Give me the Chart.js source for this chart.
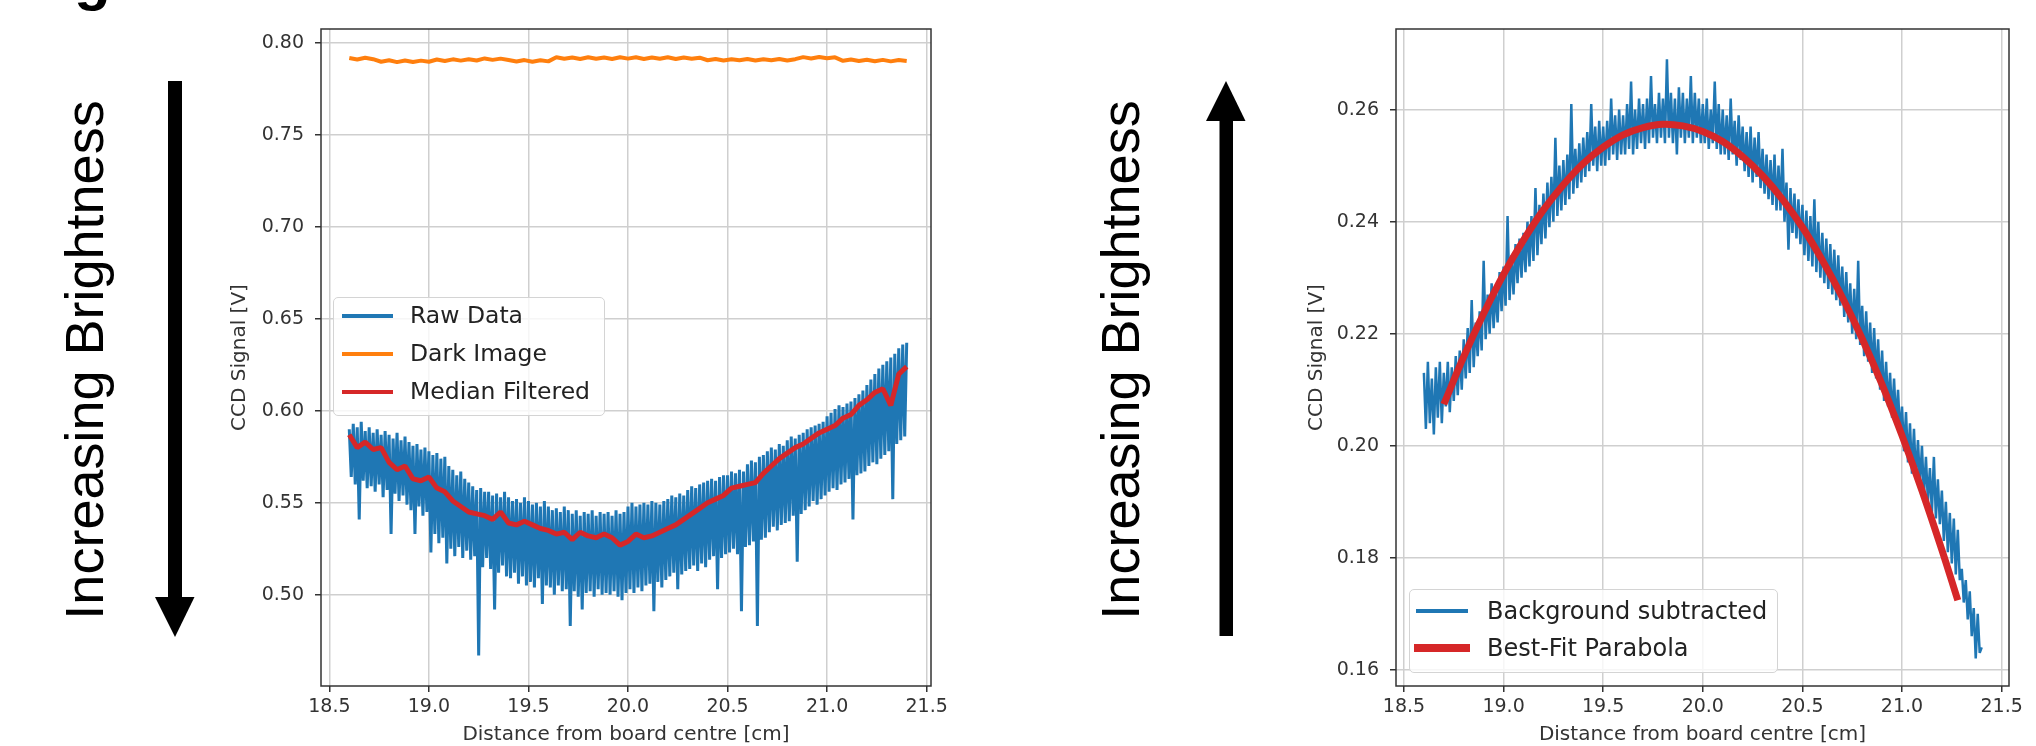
<!DOCTYPE html>
<html>
<head>
<meta charset="utf-8">
<script src="https://cdn.jsdelivr.net/npm/chart.js@4.4.1/dist/chart.umd.min.js"></script>
<style>
  html, body { margin: 0; padding: 0; background: #fff; }
  #page { position: relative; width: 2036px; height: 746px; overflow: hidden; background: #fff; }
  canvas { position: absolute; top: 0; }
  .vtext { position: absolute; font-family: "Liberation Sans", Arial, sans-serif; font-size: 54px; line-height: 54px;
           white-space: nowrap; color: #000; transform: translate(-50%, -50%) rotate(-90deg); }
  .mark { position: absolute; font-family: "Liberation Sans", Arial, sans-serif; font-weight: bold; font-size: 60px; line-height: 60px; color: #000; }
  .legend { position: absolute; box-sizing: border-box; background: rgba(255,255,255,0.8); border: 1px solid #d4d4d4; border-radius: 5px; }
  .legend .swatch { position: absolute; }
  .legend .label { position: absolute; font-family: "DejaVu Sans", sans-serif; color: #222; white-space: nowrap; }
  #arrows { position: absolute; left: 0; top: 0; }
</style>
</head>
<body>
<div id="page">
  <div class="mark" style="left:74px; top:-51px;">g</div>
  <div class="vtext" style="left:84px; top:360px;">Increasing Brightness</div>
  <div class="vtext" style="left:1120px; top:360px;">Increasing Brightness</div>
  <svg id="arrows" width="2036" height="746">
    <rect x="168" y="81" width="14" height="517" fill="#000"/>
    <polygon points="155,597 194.5,597 175,637" fill="#000"/>
    <rect x="1219.5" y="120" width="13.5" height="516" fill="#000"/>
    <polygon points="1206,121 1245.5,121 1226,81" fill="#000"/>
  </svg>
  <canvas id="leftChart" width="760" height="746" style="left:200px;"></canvas>
  <canvas id="rightChart" width="756" height="746" style="left:1280px;"></canvas>
  <div class="legend" id="legLeft" style="left:333px; top:297px; width:272px; height:119px;"></div>
  <div class="legend" id="legRight" style="left:1409px; top:589px; width:369px; height:84px;"></div>
</div>

<script>
// ---- data ----
const xTickValues = [18.5, 19.0, 19.5, 20.0, 20.5, 21.0, 21.5];
const leftYTicks = [0.50, 0.55, 0.60, 0.65, 0.70, 0.75, 0.80];
const rightYTicks = [0.16, 0.18, 0.20, 0.22, 0.24, 0.26];

// fine sampling (every 0.01 cm)
const distFine = [
  18.60, 18.61, 18.62, 18.63, 18.64, 18.65, 18.66, 18.67, 18.68, 18.69,
  18.70, 18.71, 18.72, 18.73, 18.74, 18.75, 18.76, 18.77, 18.78, 18.79,
  18.80, 18.81, 18.82, 18.83, 18.84, 18.85, 18.86, 18.87, 18.88, 18.89,
  18.90, 18.91, 18.92, 18.93, 18.94, 18.95, 18.96, 18.97, 18.98, 18.99,
  19.00, 19.01, 19.02, 19.03, 19.04, 19.05, 19.06, 19.07, 19.08, 19.09,
  19.10, 19.11, 19.12, 19.13, 19.14, 19.15, 19.16, 19.17, 19.18, 19.19,
  19.20, 19.21, 19.22, 19.23, 19.24, 19.25, 19.26, 19.27, 19.28, 19.29,
  19.30, 19.31, 19.32, 19.33, 19.34, 19.35, 19.36, 19.37, 19.38, 19.39,
  19.40, 19.41, 19.42, 19.43, 19.44, 19.45, 19.46, 19.47, 19.48, 19.49,
  19.50, 19.51, 19.52, 19.53, 19.54, 19.55, 19.56, 19.57, 19.58, 19.59,
  19.60, 19.61, 19.62, 19.63, 19.64, 19.65, 19.66, 19.67, 19.68, 19.69,
  19.70, 19.71, 19.72, 19.73, 19.74, 19.75, 19.76, 19.77, 19.78, 19.79,
  19.80, 19.81, 19.82, 19.83, 19.84, 19.85, 19.86, 19.87, 19.88, 19.89,
  19.90, 19.91, 19.92, 19.93, 19.94, 19.95, 19.96, 19.97, 19.98, 19.99,
  20.00, 20.01, 20.02, 20.03, 20.04, 20.05, 20.06, 20.07, 20.08, 20.09,
  20.10, 20.11, 20.12, 20.13, 20.14, 20.15, 20.16, 20.17, 20.18, 20.19,
  20.20, 20.21, 20.22, 20.23, 20.24, 20.25, 20.26, 20.27, 20.28, 20.29,
  20.30, 20.31, 20.32, 20.33, 20.34, 20.35, 20.36, 20.37, 20.38, 20.39,
  20.40, 20.41, 20.42, 20.43, 20.44, 20.45, 20.46, 20.47, 20.48, 20.49,
  20.50, 20.51, 20.52, 20.53, 20.54, 20.55, 20.56, 20.57, 20.58, 20.59,
  20.60, 20.61, 20.62, 20.63, 20.64, 20.65, 20.66, 20.67, 20.68, 20.69,
  20.70, 20.71, 20.72, 20.73, 20.74, 20.75, 20.76, 20.77, 20.78, 20.79,
  20.80, 20.81, 20.82, 20.83, 20.84, 20.85, 20.86, 20.87, 20.88, 20.89,
  20.90, 20.91, 20.92, 20.93, 20.94, 20.95, 20.96, 20.97, 20.98, 20.99,
  21.00, 21.01, 21.02, 21.03, 21.04, 21.05, 21.06, 21.07, 21.08, 21.09,
  21.10, 21.11, 21.12, 21.13, 21.14, 21.15, 21.16, 21.17, 21.18, 21.19,
  21.20, 21.21, 21.22, 21.23, 21.24, 21.25, 21.26, 21.27, 21.28, 21.29,
  21.30, 21.31, 21.32, 21.33, 21.34, 21.35, 21.36, 21.37, 21.38, 21.39,
  21.40
];

// coarse sampling (every 0.04 cm)
const distCoarse = [
  18.60, 18.64, 18.68, 18.72, 18.76, 18.80, 18.84, 18.88, 18.92, 18.96,
  19.00, 19.04, 19.08, 19.12, 19.16, 19.20, 19.24, 19.28, 19.32, 19.36,
  19.40, 19.44, 19.48, 19.52, 19.56, 19.60, 19.64, 19.68, 19.72, 19.76,
  19.80, 19.84, 19.88, 19.92, 19.96, 20.00, 20.04, 20.08, 20.12, 20.16,
  20.20, 20.24, 20.28, 20.32, 20.36, 20.40, 20.44, 20.48, 20.52, 20.56,
  20.60, 20.64, 20.68, 20.72, 20.76, 20.80, 20.84, 20.88, 20.92, 20.96,
  21.00, 21.04, 21.08, 21.12, 21.16, 21.20, 21.24, 21.28, 21.32, 21.36,
  21.40
];

// left panel: raw CCD signal [V]
const rawSignal = [
  0.590, 0.564, 0.593, 0.560, 0.591, 0.541, 0.594, 0.562, 0.589, 0.558,
  0.591, 0.559, 0.588, 0.556, 0.590, 0.560, 0.587, 0.553, 0.589, 0.557,
  0.587, 0.533, 0.585, 0.555, 0.588, 0.551, 0.584, 0.554, 0.586, 0.549,
  0.583, 0.546, 0.581, 0.533, 0.582, 0.548, 0.579, 0.543, 0.580, 0.545,
  0.578, 0.523, 0.576, 0.533, 0.577, 0.528, 0.574, 0.531, 0.575, 0.517,
  0.570, 0.525, 0.568, 0.521, 0.565, 0.526, 0.567, 0.520, 0.563, 0.524,
  0.561, 0.519, 0.559, 0.521, 0.557, 0.467, 0.558, 0.515, 0.556, 0.520,
  0.556, 0.514, 0.554, 0.492, 0.555, 0.512, 0.553, 0.516, 0.556, 0.510,
  0.553, 0.509, 0.551, 0.512, 0.552, 0.506, 0.550, 0.510, 0.553, 0.505,
  0.551, 0.507, 0.549, 0.504, 0.550, 0.509, 0.548, 0.495, 0.551, 0.505,
  0.548, 0.504, 0.546, 0.500, 0.547, 0.505, 0.545, 0.502, 0.548, 0.503,
  0.546, 0.483, 0.544, 0.502, 0.546, 0.499, 0.543, 0.492, 0.545, 0.501,
  0.544, 0.502, 0.546, 0.499, 0.543, 0.503, 0.545, 0.500, 0.544, 0.501,
  0.545, 0.500, 0.543, 0.502, 0.546, 0.499, 0.544, 0.497, 0.545, 0.501,
  0.548, 0.503, 0.550, 0.501, 0.548, 0.504, 0.549, 0.502, 0.550, 0.505,
  0.549, 0.506, 0.551, 0.491, 0.550, 0.507, 0.549, 0.504, 0.551, 0.508,
  0.552, 0.510, 0.554, 0.512, 0.553, 0.503, 0.555, 0.511, 0.554, 0.513,
  0.557, 0.514, 0.559, 0.516, 0.558, 0.513, 0.560, 0.517, 0.561, 0.515,
  0.562, 0.519, 0.563, 0.521, 0.562, 0.503, 0.564, 0.520, 0.565, 0.522,
  0.565, 0.523, 0.567, 0.525, 0.566, 0.522, 0.568, 0.491, 0.567, 0.526,
  0.571, 0.527, 0.573, 0.529, 0.572, 0.483, 0.575, 0.530, 0.576, 0.531,
  0.578, 0.534, 0.580, 0.537, 0.579, 0.535, 0.582, 0.538, 0.581, 0.539,
  0.584, 0.540, 0.586, 0.543, 0.585, 0.518, 0.587, 0.544, 0.588, 0.546,
  0.590, 0.548, 0.591, 0.551, 0.592, 0.549, 0.593, 0.552, 0.594, 0.554,
  0.597, 0.556, 0.599, 0.558, 0.601, 0.557, 0.603, 0.560, 0.602, 0.561,
  0.604, 0.563, 0.605, 0.541, 0.607, 0.565, 0.609, 0.566, 0.611, 0.567,
  0.614, 0.570, 0.617, 0.572, 0.620, 0.571, 0.623, 0.574, 0.625, 0.576,
  0.627, 0.578, 0.629, 0.552, 0.631, 0.582, 0.634, 0.584, 0.636, 0.586,
  0.637
];

// left panel: dark image [V]
const darkSignal = [
  0.7918, 0.7910, 0.7920, 0.7912, 0.7898, 0.7906, 0.7896, 0.7905, 0.7897, 0.7904,
  0.7898, 0.7910, 0.7902, 0.7911, 0.7904, 0.7912, 0.7905, 0.7916, 0.7908, 0.7915,
  0.7907, 0.7899, 0.7907, 0.7898, 0.7906, 0.7900, 0.7922, 0.7914, 0.7921, 0.7913,
  0.7922, 0.7914, 0.7921, 0.7913, 0.7922, 0.7915, 0.7922, 0.7913, 0.7921, 0.7914,
  0.7922, 0.7913, 0.7921, 0.7914, 0.7920, 0.7906, 0.7913, 0.7905, 0.7912, 0.7906,
  0.7913, 0.7905, 0.7912, 0.7906, 0.7913, 0.7905, 0.7912, 0.7923, 0.7916, 0.7924,
  0.7917, 0.7922, 0.7903, 0.7910, 0.7902, 0.7909, 0.7901, 0.7908, 0.7900, 0.7907,
  0.7902
];

// left panel: median filtered [V]
const medianSignal = [
  0.587, 0.580, 0.583, 0.579, 0.580, 0.572, 0.568, 0.570, 0.563, 0.562,
  0.564, 0.558, 0.556, 0.551, 0.548, 0.545, 0.544, 0.543, 0.541, 0.545,
  0.539, 0.538, 0.540, 0.538, 0.536, 0.535, 0.533, 0.534, 0.530, 0.534,
  0.532, 0.531, 0.533, 0.531, 0.527, 0.529, 0.533, 0.531, 0.532, 0.534,
  0.536, 0.538, 0.541, 0.544, 0.547, 0.550, 0.552, 0.554, 0.558, 0.559,
  0.560, 0.561, 0.566, 0.570, 0.574, 0.577, 0.580, 0.582, 0.585, 0.588,
  0.590, 0.592, 0.596, 0.598, 0.603, 0.606, 0.610, 0.612, 0.603, 0.620,
  0.624
];

// right panel: background subtracted [V]
const subtractedSignal = [
  0.213, 0.203, 0.215, 0.204, 0.212, 0.202, 0.214, 0.205, 0.215, 0.204,
  0.213, 0.207, 0.215, 0.206, 0.214, 0.208, 0.216, 0.209, 0.217, 0.210,
  0.219, 0.212, 0.221, 0.213, 0.226, 0.214, 0.222, 0.216, 0.224, 0.217,
  0.233, 0.219, 0.227, 0.220, 0.229, 0.221, 0.228, 0.222, 0.231, 0.224,
  0.232, 0.225, 0.241, 0.226, 0.234, 0.227, 0.236, 0.229, 0.237, 0.230,
  0.238, 0.231, 0.240, 0.232, 0.241, 0.233, 0.246, 0.234, 0.243, 0.236,
  0.245, 0.237, 0.247, 0.239, 0.248, 0.240, 0.255, 0.241, 0.250, 0.242,
  0.251, 0.243, 0.252, 0.244, 0.261, 0.245, 0.253, 0.246, 0.254, 0.247,
  0.255, 0.248, 0.256, 0.249, 0.261, 0.250, 0.257, 0.249, 0.258, 0.250,
  0.257, 0.250, 0.258, 0.251, 0.262, 0.252, 0.259, 0.251, 0.260, 0.252,
  0.259, 0.252, 0.261, 0.253, 0.265, 0.252, 0.260, 0.253, 0.262, 0.254,
  0.261, 0.253, 0.262, 0.254, 0.266, 0.255, 0.261, 0.254, 0.263, 0.255,
  0.262, 0.254, 0.269, 0.255, 0.263, 0.254, 0.262, 0.252, 0.264, 0.255,
  0.263, 0.254, 0.262, 0.255, 0.266, 0.254, 0.263, 0.255, 0.262, 0.254,
  0.261, 0.254, 0.262, 0.253, 0.260, 0.254, 0.265, 0.253, 0.261, 0.252,
  0.260, 0.252, 0.259, 0.251, 0.262, 0.252, 0.258, 0.250, 0.259, 0.251,
  0.257, 0.249, 0.256, 0.248, 0.257, 0.247, 0.255, 0.248, 0.256, 0.246,
  0.253, 0.245, 0.252, 0.244, 0.251, 0.243, 0.252, 0.242, 0.250, 0.242,
  0.253, 0.240, 0.247, 0.235, 0.246, 0.238, 0.245, 0.237, 0.244, 0.236,
  0.243, 0.234, 0.242, 0.233, 0.241, 0.232, 0.244, 0.231, 0.240, 0.230,
  0.238, 0.229, 0.237, 0.228, 0.236, 0.227, 0.235, 0.226, 0.234, 0.225,
  0.232, 0.223, 0.231, 0.222, 0.229, 0.220, 0.228, 0.219, 0.233, 0.218,
  0.225, 0.216, 0.224, 0.215, 0.222, 0.213, 0.221, 0.212, 0.219, 0.210,
  0.217, 0.208, 0.215, 0.207, 0.213, 0.205, 0.212, 0.204, 0.210, 0.202,
  0.207, 0.199, 0.206, 0.197, 0.204, 0.195, 0.203, 0.194, 0.201, 0.193,
  0.200, 0.191, 0.198, 0.190, 0.196, 0.188, 0.198, 0.187, 0.194, 0.186,
  0.192, 0.183, 0.190, 0.181, 0.188, 0.179, 0.187, 0.177, 0.185, 0.176,
  0.178, 0.172, 0.176, 0.169, 0.174, 0.166, 0.171, 0.162, 0.170, 0.163,
  0.164
];

// right panel: best-fit parabola [V]
const fitDist = [
  18.70, 18.80, 18.90, 19.00, 19.10, 19.20, 19.30, 19.40, 19.50, 19.60,
  19.70, 19.80, 19.90, 20.00, 20.10, 20.20, 20.30, 20.40, 20.50, 20.60,
  20.70, 20.80, 20.90, 21.00, 21.10, 21.20, 21.28
];
const fitSignal = [
  0.2074, 0.2159, 0.2236, 0.2306, 0.2367, 0.2421, 0.2466, 0.2504, 0.2533, 0.2555,
  0.2568, 0.2574, 0.2571, 0.2561, 0.2543, 0.2516, 0.2482, 0.2440, 0.2390, 0.2331,
  0.2265, 0.2191, 0.2109, 0.2018, 0.1920, 0.1814, 0.1724
];

const BLUE = '#1f77b4';
const ORANGE = '#ff7f0e';
const RED = '#d62728';

// ---- helpers ----
function toPoints(xs, ys) {
  return xs.map((x, i) => ({ x: x, y: ys[i] }));
}

const tickFont = { family: 'DejaVu Sans', size: 19 };
const titleFont = { family: 'DejaVu Sans', size: 20 };

// draws the four spines around the plot area
const framePlugin = {
  id: 'frame',
  afterDraw(chart) {
    const { ctx, chartArea: a } = chart;
    ctx.save();
    ctx.strokeStyle = '#333';
    ctx.lineWidth = 1.5;
    ctx.strokeRect(a.left, a.top, a.right - a.left, a.bottom - a.top);
    ctx.restore();
  }
};

function buildScales(cfg) {
  const grid = { color: '#cfcfcf', lineWidth: 1.5, tickLength: 6, tickColor: '#333', tickWidth: 1.5 };
  return {
    x: {
      type: 'linear',
      min: cfg.xMin,
      max: cfg.xMax,
      afterBuildTicks: axis => { axis.ticks = xTickValues.map(v => ({ value: v })); },
      afterFit: axis => { axis.height = 60; },
      ticks: { callback: v => v.toFixed(1), font: tickFont, color: '#333', padding: 4, maxRotation: 0, autoSkip: false },
      grid: grid,
      border: { display: false },
      title: { display: true, text: 'Distance from board centre [cm]', font: titleFont, color: '#333', padding: { top: 0, bottom: -1 } }
    },
    y: {
      type: 'linear',
      min: cfg.yMin,
      max: cfg.yMax,
      afterBuildTicks: axis => { axis.ticks = cfg.yTicks.map(v => ({ value: v })); },
      afterFit: axis => { axis.width = cfg.yWidth; },
      ticks: { callback: v => v.toFixed(2), font: tickFont, color: '#333', padding: 11, autoSkip: false },
      grid: grid,
      border: { display: false },
      title: { display: true, text: 'CCD Signal [V]', font: titleFont, color: '#333', padding: { top: cfg.yTitlePad, bottom: 0 } }
    }
  };
}

function baseOptions(cfg) {
  return {
    responsive: false,
    animation: false,
    devicePixelRatio: 1,
    layout: { padding: { top: 29, right: cfg.padRight, bottom: 0, left: 0 } },
    elements: { point: { radius: 0 }, line: { tension: 0, borderJoinStyle: 'bevel' } },
    plugins: { legend: { display: false }, tooltip: { enabled: false } },
    scales: buildScales(cfg)
  };
}

// left chart: raw, dark and median filtered
new Chart(document.getElementById('leftChart'), {
  type: 'line',
  data: {
    datasets: [
      { label: 'Raw Data', data: toPoints(distFine, rawSignal), borderColor: BLUE, borderWidth: 3, order: 2 },
      { label: 'Dark Image', data: toPoints(distCoarse, darkSignal), borderColor: ORANGE, borderWidth: 4, order: 1 },
      { label: 'Median Filtered', data: toPoints(distCoarse, medianSignal), borderColor: RED, borderWidth: 5, order: 0 }
    ]
  },
  options: baseOptions({ xMin: 18.458, xMax: 21.522, yMin: 0.4504, yMax: 0.8076, yTicks: leftYTicks, yWidth: 121, yTitlePad: 28, padRight: 29 }),
  plugins: [framePlugin]
});

// right chart: background subtracted + parabola fit
new Chart(document.getElementById('rightChart'), {
  type: 'line',
  data: {
    datasets: [
      { label: 'Background subtracted', data: toPoints(distFine, subtractedSignal), borderColor: BLUE, borderWidth: 2.5, order: 1 },
      { label: 'Best-Fit Parabola', data: toPoints(fitDist, fitSignal), borderColor: RED, borderWidth: 7, borderJoinStyle: 'round', tension: 0.4, order: 0 }
    ]
  },
  options: baseOptions({ xMin: 18.46, xMax: 21.537, yMin: 0.1571, yMax: 0.2744, yTicks: rightYTicks, yWidth: 116, yTitlePad: 25, padRight: 27 }),
  plugins: [framePlugin]
});

// matplotlib-style legends inside the axes
function makeLegend(id, items, fontSize, labelLeft) {
  const box = document.getElementById(id);
  items.forEach(item => {
    const sw = document.createElement('div');
    sw.className = 'swatch';
    sw.style.background = item.color;
    sw.style.left = item.left + 'px';
    sw.style.width = item.len + 'px';
    sw.style.height = item.thick + 'px';
    sw.style.top = (item.cy - item.thick / 2) + 'px';
    box.appendChild(sw);
    const lb = document.createElement('div');
    lb.className = 'label';
    lb.textContent = item.label;
    lb.style.left = labelLeft + 'px';
    lb.style.fontSize = fontSize + 'px';
    lb.style.lineHeight = fontSize + 'px';
    lb.style.top = (item.cy - fontSize / 2) + 'px';
    box.appendChild(lb);
  });
}

makeLegend('legLeft', [
  { label: 'Raw Data', color: BLUE, left: 8, len: 51, thick: 3.5, cy: 18 },
  { label: 'Dark Image', color: ORANGE, left: 8, len: 51, thick: 3.5, cy: 56 },
  { label: 'Median Filtered', color: RED, left: 8, len: 51, thick: 3.5, cy: 94 }
], 23.5, 76);

makeLegend('legRight', [
  { label: 'Background subtracted', color: BLUE, left: 6, len: 52, thick: 3.5, cy: 21 },
  { label: 'Best-Fit Parabola', color: RED, left: 4, len: 56, thick: 8, cy: 58 }
], 24, 77);
</script>
</body>
</html>
